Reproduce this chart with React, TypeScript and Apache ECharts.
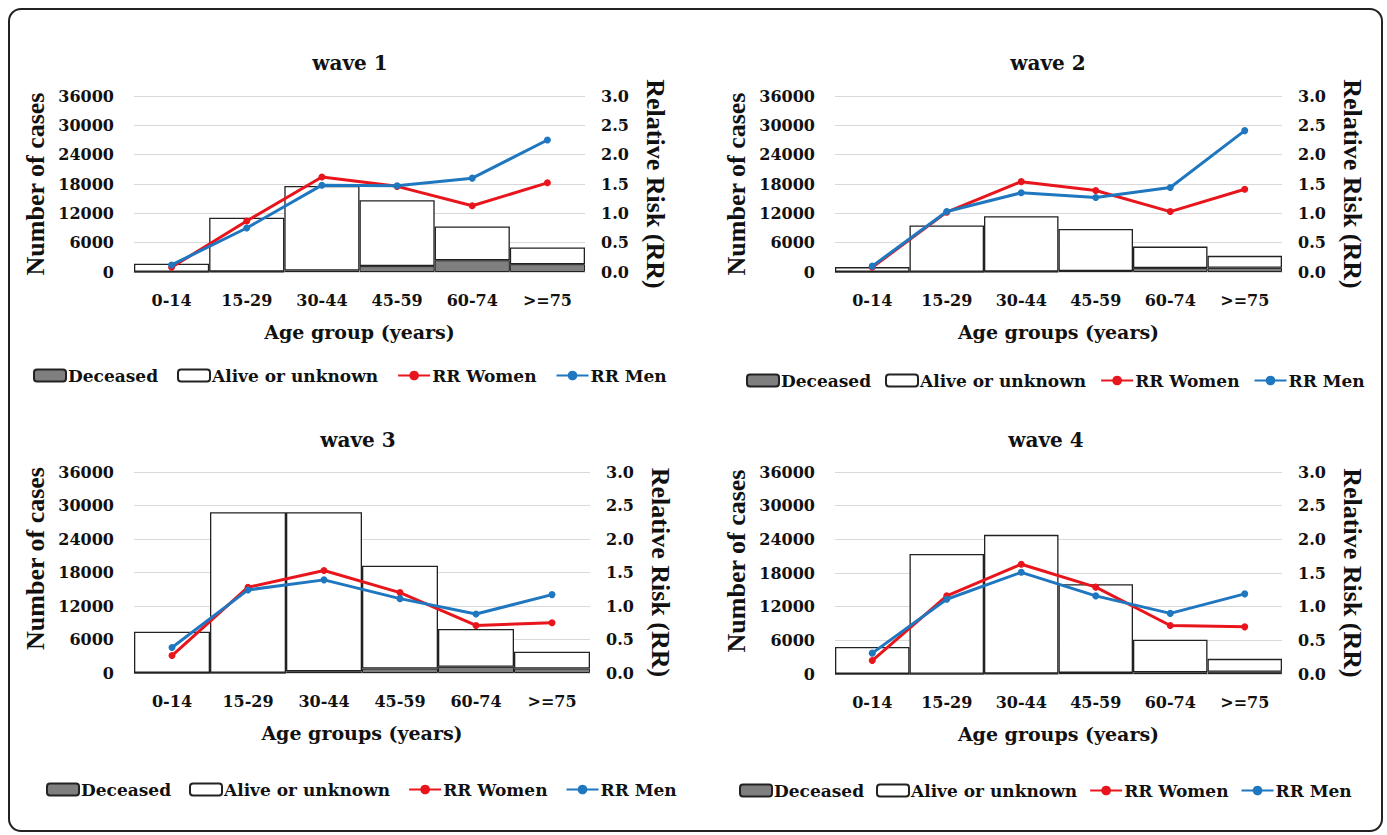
import React, { useEffect, useRef } from "react";
import * as echarts from "echarts";

const categories = ["0-14", "15-29", "30-44", "45-59", "60-74", ">=75"];

const wave1Deceased = [50, 100, 300, 1200, 2400, 1600];
const wave1Alive = [1650, 11000, 17300, 13500, 6900, 3400];
const wave1RRWomen = [0.08, 0.87, 1.62, 1.46, 1.13, 1.52];
const wave1RRMen = [0.12, 0.75, 1.48, 1.47, 1.6, 2.25];

const wave2Deceased = [20, 50, 100, 200, 800, 850];
const wave2Alive = [980, 9450, 11300, 8600, 4400, 2450];
const wave2RRWomen = [0.08, 1.02, 1.54, 1.39, 1.03, 1.41];
const wave2RRMen = [0.1, 1.03, 1.35, 1.27, 1.44, 2.41];

const wave3Deceased = [20, 50, 300, 800, 1100, 800];
const wave3Alive = [7380, 28750, 28500, 18400, 6800, 3000];
const wave3RRWomen = [0.26, 1.28, 1.53, 1.2, 0.71, 0.75];
const wave3RRMen = [0.38, 1.24, 1.39, 1.11, 0.88, 1.17];

const wave4Deceased = [20, 30, 100, 200, 300, 400];
const wave4Alive = [4780, 21370, 24700, 15800, 5800, 2300];
const wave4RRWomen = [0.2, 1.16, 1.63, 1.29, 0.72, 0.7];
const wave4RRMen = [0.31, 1.11, 1.51, 1.16, 0.9, 1.19];

const waveTitles = ["wave 1", "wave 2", "wave 3", "wave 4"];
const xAxisNames = ["Age group (years)", "Age groups (years)", "Age groups (years)", "Age groups (years)"];
const leftAxisName = "Number of cases";
const rightAxisName = "Relative Risk (RR)";
const seriesNames = ["Deceased", "Alive or unknown", "RR Women", "RR Men"];

const waves = [
  { deceased: wave1Deceased, alive: wave1Alive, women: wave1RRWomen, men: wave1RRMen },
  { deceased: wave2Deceased, alive: wave2Alive, women: wave2RRWomen, men: wave2RRMen },
  { deceased: wave3Deceased, alive: wave3Alive, women: wave3RRWomen, men: wave3RRMen },
  { deceased: wave4Deceased, alive: wave4Alive, women: wave4RRWomen, men: wave4RRMen },
];

const grids = [
  { left: 134, top: 96, width: 451, height: 176 },
  { left: 835, top: 96, width: 447, height: 176 },
  { left: 134, top: 472, width: 456, height: 201 },
  { left: 835, top: 472, width: 447, height: 202 },
];
const titlePos = [
  { x: 345, y: 48 },
  { x: 1043, y: 48 },
  { x: 353, y: 425 },
  { x: 1041, y: 425 },
];
const legendPos = [
  { x: 28, y: 362, gap: 19 },
  { x: 741, y: 367, gap: 14 },
  { x: 41, y: 776, gap: 18 },
  { x: 734, y: 777, gap: 12 },
];
const leftNameShift = [0, 0, 28, 24];

const FONT_H = "DejaVu Serif";
const FONT_V = "Liberation Serif";
const RED = "#e8161c";
const BLUE = "#1f77c0";

export default function App() {
  const ref = useRef<HTMLDivElement>(null);
  useEffect(() => {
    if (!ref.current) return;
    const chart = echarts.init(ref.current, null, { renderer: "svg" });
    const tick = { fontFamily: FONT_H, fontWeight: "bold" as const, fontSize: 16, color: "#111" };

    const xAxis: any[] = [];
    const yAxis: any[] = [];
    const series: any[] = [];
    const title: any[] = [];
    const legend: any[] = [];

    waves.forEach((w, i) => {
      xAxis.push({
        type: "category",
        gridIndex: i,
        data: categories,
        axisTick: { show: false },
        axisLine: { show: true, lineStyle: { color: "#d9d9d9", width: 1 } },
        axisLabel: { ...tick, margin: 20 },
        name: xAxisNames[i],
        nameLocation: "middle",
        nameGap: 50,
        nameTextStyle: { fontFamily: FONT_H, fontWeight: "bold", fontSize: 19, color: "#111" },
      });
      yAxis.push({
        type: "value",
        gridIndex: i,
        min: 0,
        max: 36000,
        interval: 6000,
        position: "left",
        axisLine: { show: false },
        axisTick: { show: false },
        splitLine: { show: true, lineStyle: { color: "#d9d9d9", width: 1 } },
        axisLabel: { ...tick, margin: 20, formatter: (v: number) => String(v) },
        name: leftAxisName,
        nameLocation: "middle",
        nameRotate: 90,
        nameGap: 86,
        nameTextStyle: {
          fontFamily: FONT_V,
          fontWeight: "bold",
          fontSize: 26,
          color: "#111",
          padding: [0, 0, 0, leftNameShift[i]],
        },
      });
      yAxis.push({
        type: "value",
        gridIndex: i,
        min: 0,
        max: 3,
        interval: 0.5,
        position: "right",
        axisLine: { show: false },
        axisTick: { show: false },
        splitLine: { show: false },
        axisLabel: { ...tick, margin: 16, formatter: (v: number) => v.toFixed(1) },
        name: rightAxisName,
        nameLocation: "middle",
        nameRotate: -90,
        nameGap: 57,
        nameTextStyle: { fontFamily: FONT_V, fontWeight: "bold", fontSize: 26, color: "#111" },
      });
      series.push({
        name: seriesNames[0],
        type: "bar",
        xAxisIndex: i,
        yAxisIndex: i * 2,
        stack: "cases" + i,
        data: w.deceased,
        barCategoryGap: "0%",
        itemStyle: { color: "#7f7f7f", borderColor: "#222", borderWidth: 1 },
      });
      series.push({
        name: seriesNames[1],
        type: "bar",
        xAxisIndex: i,
        yAxisIndex: i * 2,
        stack: "cases" + i,
        data: w.alive,
        barCategoryGap: "0%",
        itemStyle: { color: "#ffffff", borderColor: "#222", borderWidth: 1.3 },
      });
      series.push({
        name: seriesNames[2],
        type: "line",
        xAxisIndex: i,
        yAxisIndex: i * 2 + 1,
        data: w.women,
        symbol: "circle",
        symbolSize: 7,
        lineStyle: { color: RED, width: 3 },
        itemStyle: { color: RED },
        z: 5,
      });
      series.push({
        name: seriesNames[3],
        type: "line",
        xAxisIndex: i,
        yAxisIndex: i * 2 + 1,
        data: w.men,
        symbol: "circle",
        symbolSize: 7,
        lineStyle: { color: BLUE, width: 3 },
        itemStyle: { color: BLUE },
        z: 6,
      });
      title.push({
        text: waveTitles[i],
        left: titlePos[i].x,
        top: titlePos[i].y,
        textAlign: "center",
        textStyle: { fontFamily: FONT_H, fontWeight: "bold", fontSize: 20, color: "#111" },
      });
      legend.push({
        data: seriesNames,
        left: legendPos[i].x,
        top: legendPos[i].y,
        itemWidth: 32,
        itemHeight: 12,
        itemGap: legendPos[i].gap,
        selectedMode: false,
        textStyle: { fontFamily: FONT_H, fontWeight: "bold", fontSize: 17, color: "#111", padding: [0, 0, 0, -3] },
      });
    });

    chart.setOption({
      animation: false,
      backgroundColor: "#ffffff",
      title,
      legend,
      grid: grids.map((g) => ({ ...g, containLabel: false })),
      xAxis,
      yAxis,
      series,
      graphic: [
        {
          type: "rect",
          shape: { x: 9, y: 9, width: 1373, height: 822, r: 12 },
          style: { fill: "none", stroke: "#222", lineWidth: 2 },
          silent: true,
          z: 100,
        },
      ],
    });
    return () => chart.dispose();
  }, []);
  return (
    <div
      ref={ref}
      style={{ position: "absolute", left: 0, top: 0, width: 1387, height: 835, background: "#fff" }}
    />
  );
}
